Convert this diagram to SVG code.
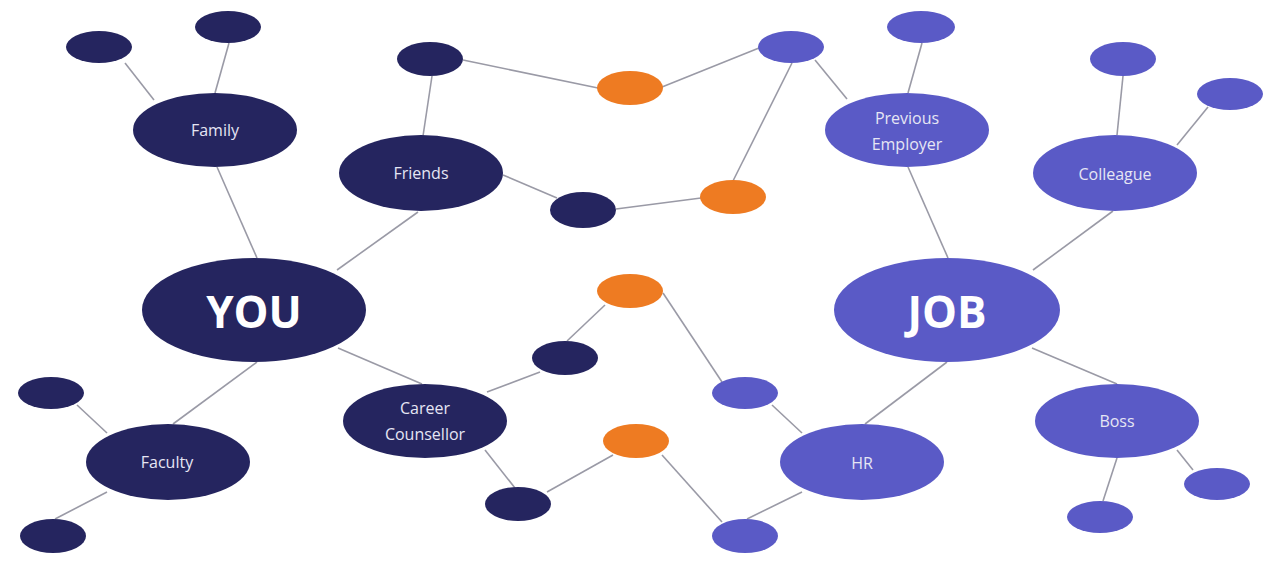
<svg xmlns="http://www.w3.org/2000/svg" width="1265" height="561" viewBox="0 0 1265 561">
<style>
.d{fill:#25255f}
.b{fill:#5a5ac6}
.o{fill:#ee7b22}
.t{fill:#e6e6f4;font-family:"Open Sans","Liberation Sans",sans-serif;font-size:16px;text-anchor:middle}
.big{font-size:44px;font-weight:bold;fill:#ffffff}
#connectors line{stroke:#9a9aa6;stroke-width:1.6}
</style>
<rect width="1265" height="561" fill="#ffffff"/>
<g id="connectors">
<line x1="125" y1="63" x2="154" y2="100"/>
<line x1="229" y1="43" x2="215" y2="93"/>
<line x1="217" y1="167" x2="257" y2="258"/>
<line x1="418" y1="212" x2="337" y2="270"/>
<line x1="432" y1="76" x2="423" y2="136"/>
<line x1="463" y1="60" x2="598" y2="88"/>
<line x1="662" y1="87" x2="759" y2="48"/>
<line x1="792" y1="63" x2="733" y2="181"/>
<line x1="815" y1="60" x2="847" y2="99"/>
<line x1="503" y1="175" x2="557" y2="198"/>
<line x1="616" y1="209" x2="701" y2="198"/>
<line x1="908" y1="93" x2="922" y2="43"/>
<line x1="908" y1="167" x2="948" y2="258"/>
<line x1="1117" y1="135" x2="1123" y2="76"/>
<line x1="1177" y1="145" x2="1208" y2="107"/>
<line x1="1113" y1="211" x2="1033" y2="270"/>
<line x1="338" y1="348" x2="422" y2="384"/>
<line x1="257" y1="362" x2="173" y2="424"/>
<line x1="77" y1="405" x2="107" y2="433"/>
<line x1="107" y1="492" x2="55" y2="519"/>
<line x1="487" y1="392" x2="540" y2="372"/>
<line x1="567" y1="341" x2="605" y2="305"/>
<line x1="663" y1="293" x2="722" y2="382"/>
<line x1="772" y1="405" x2="802" y2="433"/>
<line x1="485" y1="450" x2="515" y2="488"/>
<line x1="547" y1="492" x2="613" y2="455"/>
<line x1="662" y1="455" x2="722" y2="522"/>
<line x1="747" y1="519" x2="802" y2="492"/>
<line x1="865" y1="424" x2="947" y2="362"/>
<line x1="1032" y1="348" x2="1117" y2="384"/>
<line x1="1117" y1="458" x2="1103" y2="501"/>
<line x1="1177" y1="450" x2="1193" y2="470"/>
</g>
<g id="n-fam-s1"><ellipse class="d" cx="99" cy="47" rx="33" ry="16"/></g>
<g id="n-fam-s2"><ellipse class="d" cx="228" cy="27" rx="33" ry="16"/></g>
<g id="n-family"><ellipse class="d" cx="215" cy="130" rx="82" ry="37"/><text class="t" x="215" y="136">Family</text></g>
<g id="n-fr-s1"><ellipse class="d" cx="430" cy="59" rx="33" ry="17"/></g>
<g id="n-friends"><ellipse class="d" cx="421" cy="173" rx="82" ry="38"/><text class="t" x="421" y="179">Friends</text></g>
<g id="n-or1"><ellipse class="o" cx="630" cy="88" rx="33" ry="17"/></g>
<g id="n-jb-s1"><ellipse class="b" cx="791" cy="47" rx="33" ry="16"/></g>
<g id="n-fr-s2"><ellipse class="d" cx="583" cy="210" rx="33" ry="18"/></g>
<g id="n-or2"><ellipse class="o" cx="733" cy="197" rx="33" ry="17"/></g>
<g id="n-prev"><ellipse class="b" cx="907" cy="130" rx="82" ry="37"/><text class="t" x="907" y="124">Previous</text><text class="t" x="907" y="150">Employer</text></g>
<g id="n-prev-s"><ellipse class="b" cx="921" cy="27" rx="34" ry="16"/></g>
<g id="n-colleague"><ellipse class="b" cx="1115" cy="173" rx="82" ry="38"/><text class="t" x="1115" y="180">Colleague</text></g>
<g id="n-col-s1"><ellipse class="b" cx="1123" cy="59" rx="33" ry="17"/></g>
<g id="n-col-s2"><ellipse class="b" cx="1230" cy="94" rx="33" ry="16"/></g>
<g id="n-you"><ellipse class="d" cx="254" cy="310" rx="112" ry="52"/><text class="t big" x="254" y="328">YOU</text></g>
<g id="n-job"><ellipse class="b" cx="947" cy="310" rx="113" ry="52"/><text class="t big" x="947" y="328">JOB</text></g>
<g id="n-fac-s1"><ellipse class="d" cx="51" cy="393" rx="33" ry="16"/></g>
<g id="n-fac-s2"><ellipse class="d" cx="53" cy="536" rx="33" ry="17"/></g>
<g id="n-faculty"><ellipse class="d" cx="168" cy="462" rx="82" ry="38"/><text class="t" x="167" y="468">Faculty</text></g>
<g id="n-career"><ellipse class="d" cx="425" cy="421" rx="82" ry="37"/><text class="t" x="425" y="414">Career</text><text class="t" x="425" y="440">Counsellor</text></g>
<g id="n-cc-s1"><ellipse class="d" cx="565" cy="358" rx="33" ry="17"/></g>
<g id="n-or3"><ellipse class="o" cx="630" cy="291" rx="33" ry="17"/></g>
<g id="n-cc-s2"><ellipse class="d" cx="518" cy="504" rx="33" ry="17"/></g>
<g id="n-or4"><ellipse class="o" cx="636" cy="441" rx="33" ry="17"/></g>
<g id="n-hr-s1"><ellipse class="b" cx="745" cy="393" rx="33" ry="16"/></g>
<g id="n-hr-s2"><ellipse class="b" cx="745" cy="536" rx="33" ry="17"/></g>
<g id="n-hr"><ellipse class="b" cx="862" cy="462" rx="82" ry="38"/><text class="t" x="862" y="469">HR</text></g>
<g id="n-boss"><ellipse class="b" cx="1117" cy="421" rx="82" ry="37"/><text class="t" x="1117" y="427">Boss</text></g>
<g id="n-boss-s1"><ellipse class="b" cx="1217" cy="484" rx="33" ry="16"/></g>
<g id="n-boss-s2"><ellipse class="b" cx="1100" cy="517" rx="33" ry="16"/></g>
</svg>
